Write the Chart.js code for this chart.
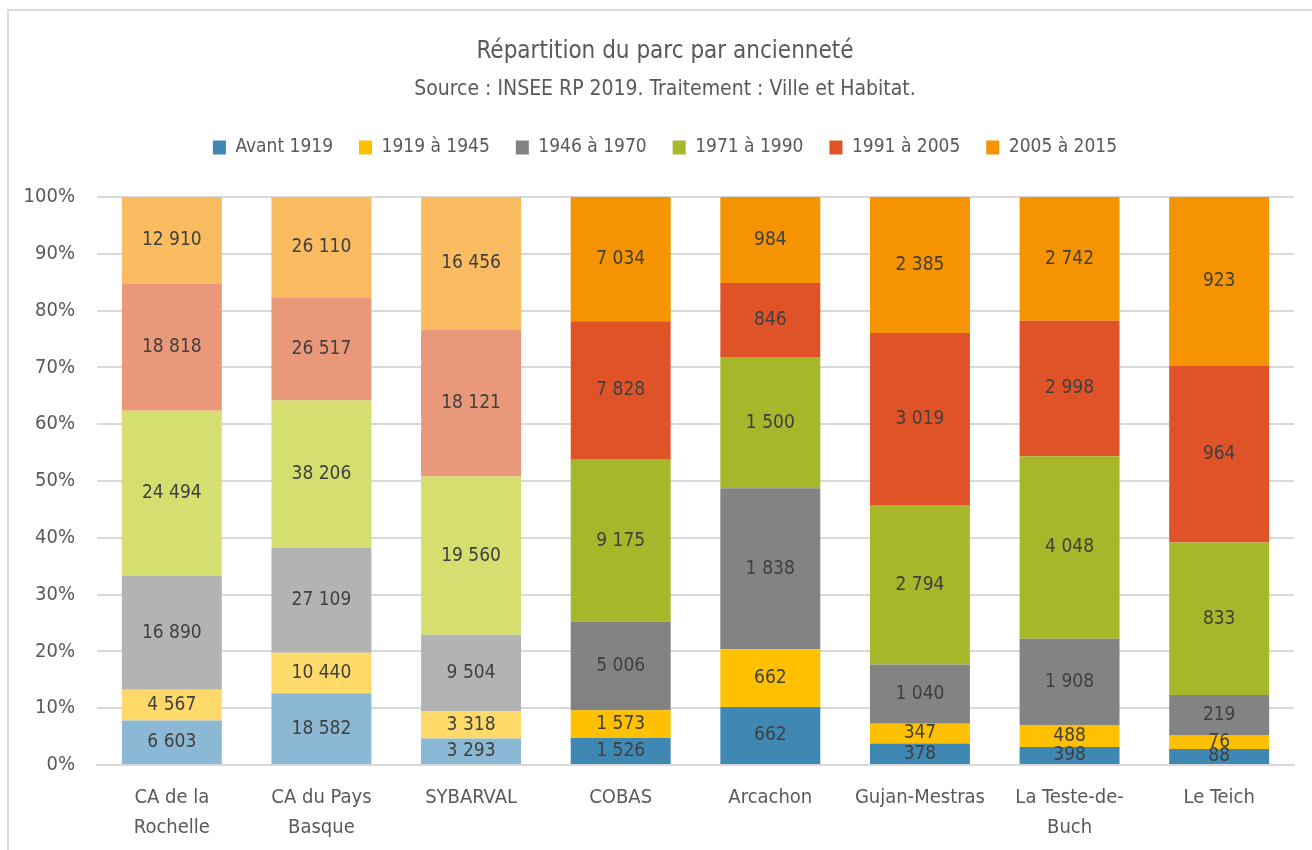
<!DOCTYPE html>
<html>
<head>
<meta charset="utf-8">
<script src="https://cdn.jsdelivr.net/npm/chart.js@4"></script>
<style>
  body { margin: 0; background: #fff; overflow: hidden; }
  #wrap { position: relative; width: 1312px; height: 850px; }
  #frame { position: absolute; left: 7px; top: 9px; width: 1330px; height: 870px; border: 2px solid #d9d9d9; }
</style>
</head>
<body>
<div id="wrap">
  <div id="frame"></div>
  <canvas id="myChart"></canvas>
</div>
<script>
const territoires = [['CA de la', 'Rochelle'], ['CA du Pays', 'Basque'], 'SYBARVAL', 'COBAS', 'Arcachon', 'Gujan-Mestras', ['La Teste-de-', 'Buch'], 'Le Teich'];
const periodes = ['Avant 1919', '1919 à 1945', '1946 à 1970', '1971 à 1990', '1991 à 2005', '2005 à 2015'];

const avant1919 = [6603, 18582, 3293, 1526, 662, 378, 398, 88];
const de1919a1945 = [4567, 10440, 3318, 1573, 662, 347, 488, 76];
const de1946a1970 = [16890, 27109, 9504, 5006, 1838, 1040, 1908, 219];
const de1971a1990 = [24494, 38206, 19560, 9175, 1500, 2794, 4048, 833];
const de1991a2005 = [18818, 26517, 18121, 7828, 846, 3019, 2998, 964];
const de2005a2015 = [12910, 26110, 16456, 7034, 984, 2385, 2742, 923];

const yTicks = [0, 10, 20, 30, 40, 50, 60, 70, 80, 90, 100];

const series = [avant1919, de1919a1945, de1946a1970, de1971a1990, de1991a2005, de2005a2015];
const couleurs = ['#3f88b4', '#ffc000', '#838383', '#a6b72a', '#e05328', '#f59300'];
const couleursClaires = ['#8bb8d4', '#ffda6a', '#b3b3b3', '#d4df70', '#ea987a', '#fbbb60'];
const nbClairs = 3; // les trois premiers territoires en teinte claire

const police = "'Liberation Sans Narrow', 'Arial Narrow', 'DejaVu Sans Condensed', sans-serif";

const totaux = territoires.map((t, i) => series.reduce((s, arr) => s + arr[i], 0));

function formatNombre(v) {
  return String(v).replace(/\B(?=(\d{3})+(?!\d))/g, ' ');
}

const datasets = series.map((arr, k) => ({
  label: periodes[k],
  data: arr.map((v, i) => v / totaux[i] * 100),
  brut: arr,
  backgroundColor: arr.map((v, i) => i < nbClairs ? couleursClaires[k] : couleurs[k]),
  borderWidth: 0,
  barPercentage: 0.668,
  categoryPercentage: 1
}));

// valeurs brutes au milieu de chaque segment
const etiquettes = {
  id: 'etiquettes',
  afterDatasetsDraw(chart) {
    const ctx = chart.ctx;
    ctx.save();
    ctx.font = '19px ' + police;
    ctx.fillStyle = '#404040';
    ctx.textAlign = 'center';
    ctx.textBaseline = 'middle';
    chart.data.datasets.forEach((ds, k) => {
      const meta = chart.getDatasetMeta(k);
      meta.data.forEach((bar, i) => {
        const p = bar.getProps(['x', 'y', 'base'], true);
        ctx.fillText(formatNombre(ds.brut[i]), p.x, (p.y + p.base) / 2);
      });
    });
    ctx.restore();
  }
};

// espace sous la légende + titres centrés sur le cadre
const margeLegende = {
  id: 'margeLegende',
  beforeInit(chart) {
    const fitOrig = chart.legend.fit;
    chart.legend.fit = function () {
      fitOrig.bind(chart.legend)();
      this.height += 30;
    };
  },
  afterLayout(chart) {
    chart.boxes.forEach(b => {
      if (b.position === 'top') {
        b.left += 18;
        b.right += 18;
      }
    });
  }
};

new Chart(document.getElementById('myChart'), {
  type: 'bar',
  data: { labels: territoires, datasets: datasets },
  plugins: [etiquettes, margeLegende],
  options: {
    responsive: true,
    maintainAspectRatio: false,
    animation: false,
    layout: { padding: { top: 37, right: 18, bottom: 0, left: 0 } },
    plugins: {
      title: {
        display: true,
        text: 'Répartition du parc par ancienneté',
        color: '#595959',
        font: { family: police, size: 24, weight: 'normal' },
        padding: { top: 0, bottom: 11 }
      },
      subtitle: {
        display: true,
        text: 'Source : INSEE RP 2019. Traitement : Ville et Habitat.',
        color: '#595959',
        font: { family: police, size: 21 },
        padding: { top: 0, bottom: 10 }
      },
      legend: {
        position: 'top',
        labels: {
          color: '#595959',
          font: { family: police, size: 19 },
          boxWidth: 13,
          boxHeight: 14,
          padding: 26,
          generateLabels: () => periodes.map((p, k) => ({
            text: p,
            fillStyle: couleurs[k],
            strokeStyle: couleurs[k],
            fontColor: '#595959',
            lineWidth: 0,
            datasetIndex: k
          }))
        }
      },
      tooltip: { enabled: false }
    },
    scales: {
      x: {
        stacked: true,
        grid: { display: false },
        border: { display: true, color: '#d9d9d9', width: 2 },
        ticks: { color: '#595959', font: { family: police, size: 20, lineHeight: 1.5 }, padding: 10, maxRotation: 0, autoSkip: false },
        afterFit: (s) => { s.height = 85; }
      },
      y: {
        stacked: true,
        min: 0,
        max: 100,
        grid: { color: '#d9d9d9', lineWidth: 2, drawTicks: false },
        border: { display: false },
        afterBuildTicks: (s) => { s.ticks = yTicks.map(v => ({ value: v })); },
        ticks: {
          color: '#595959',
          font: { family: police, size: 20 },
          padding: 22,
          callback: (v) => v + '%'
        },
        afterFit: (s) => { s.width = 97; }
      }
    }
  }
});
</script>
</body>
</html>
